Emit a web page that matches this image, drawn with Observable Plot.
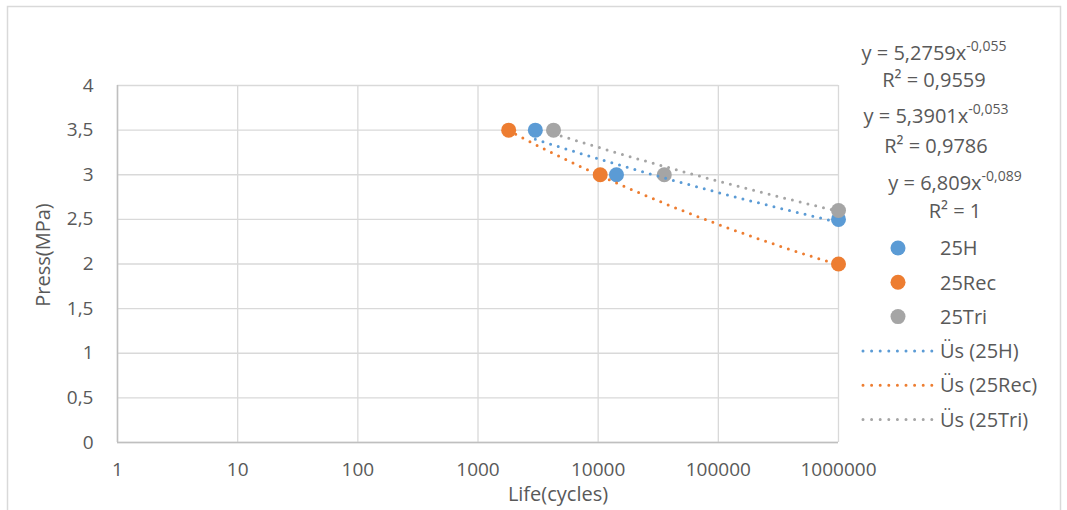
<!DOCTYPE html>
<html>
<head>
<meta charset="utf-8">
<script src="https://cdn.jsdelivr.net/npm/d3@7"></script>
<script src="https://cdn.jsdelivr.net/npm/@observablehq/plot@0.6"></script>
<style>
  html, body { margin: 0; padding: 0; background: #ffffff; }
  #chart { width: 1067px; height: 510px; overflow: hidden; }
</style>
</head>
<body>
<div id="chart"></div>
<script>
// ---- data ----
const seriesNames = ["25H", "25Rec", "25Tri"];
const seriesColors = ["#5B9BD5", "#ED7D31", "#A5A5A5"];
const lifeH = [3000, 14200, 1000000];
const pressH = [3.5, 3.0, 2.5];
const lifeRec = [1800, 10400, 1000000];
const pressRec = [3.5, 3.0, 2.0];
const lifeTri = [4250, 35500, 1000000];
const pressTri = [3.5, 3.0, 2.6];
// power trendline coefficients y = a * x^b (as printed on the chart)
const coefA = [5.2759, 6.809, 5.3901];
const coefB = [-0.055, -0.089, -0.053];
const rSquared = [0.9559, 1, 0.9786];
const xTicks = [1, 10, 100, 1000, 10000, 100000, 1000000];
const yTicks = [0, 0.5, 1, 1.5, 2, 2.5, 3, 3.5, 4];
const xTitle = "Life(cycles)";
const yTitle = "Press(MPa)";
const trendPrefix = "Üs";

// ---- derived tables ----
const lifes = [lifeH, lifeRec, lifeTri];
const presses = [pressH, pressRec, pressTri];
const points = [];
seriesNames.forEach((s, i) => lifes[i].forEach((l, j) => points.push({series: s, life: l, press: presses[i][j]})));
const trend = [];
seriesNames.forEach((s, i) => {
  const lo = Math.log10(d3.min(lifes[i])), hi = Math.log10(d3.max(lifes[i]));
  const n = 80;
  for (let k = 0; k <= n; k++) {
    const x = Math.pow(10, lo + (hi - lo) * k / n);
    trend.push({series: s, life: x, press: coefA[i] * Math.pow(x, coefB[i])});
  }
});
const comma = v => String(v).replace(".", ",");

const FONT = "'Open Sans', 'Noto Sans', sans-serif";
const TXT = "#595959";

const svg = Plot.plot({
  width: 1067, height: 510,
  marginLeft: 117, marginRight: 229, marginTop: 85, marginBottom: 68,
  style: {fontFamily: FONT, fontSize: "19px", color: TXT, background: "transparent", overflow: "visible"},
  x: {type: "log", domain: [1, 1e6]},
  y: {domain: [0, 4]},
  color: {domain: seriesNames, range: seriesColors},
  marks: [
    Plot.gridX(xTicks, {stroke: "#d9d9d9", strokeOpacity: 1, strokeWidth: 1.3}),
    Plot.gridY(yTicks, {stroke: "#d9d9d9", strokeOpacity: 1, strokeWidth: 1.3}),
    Plot.ruleX([1], {stroke: "#bfbfbf", strokeWidth: 1.5}),
    Plot.ruleY([0], {stroke: "#bfbfbf", strokeWidth: 1.5}),
    Plot.axisX(xTicks, {tickSize: 0, tickPadding: 20, tickFormat: d => String(d), label: null, fill: TXT, fontSize: 19}),
    Plot.axisY(yTicks, {tickSize: 0, tickPadding: 24, tickFormat: comma, label: null, fill: TXT, fontSize: 19}),
    Plot.dot(points, {x: "life", y: "press", fill: "series", r: 7.5, stroke: null}),
    Plot.line(trend, {x: "life", y: "press", z: "series", stroke: "series", strokeWidth: 3,
      strokeDasharray: "0 8", strokeLinecap: "round", curve: "linear"})
  ]
});
document.getElementById("chart").appendChild(svg);

const g = d3.select(svg).append("g").attr("text-anchor", "start");
// chart border
g.append("rect").attr("x", 7.5).attr("y", 6.5).attr("width", 1053).attr("height", 520)
  .attr("fill", "none").attr("stroke", "#d9d9d9").attr("stroke-width", 1.5);

// axis titles
g.append("text").attr("x", 558).attr("y", 501).attr("text-anchor", "middle")
  .attr("font-family", FONT).attr("font-size", 20).attr("fill", TXT).text(xTitle);
g.append("text").attr("transform", "translate(50,255) rotate(-90)").attr("text-anchor", "middle")
  .attr("font-family", FONT).attr("font-size", 20).attr("fill", TXT).text(yTitle);

// trendline equations (order top-to-bottom: 25H, 25Tri, 25Rec)
const eqOrder = [0, 2, 1];
const eqCx = [934, 936, 955];
const eqBase = [[60, 87], [123, 153], [190, 218]];
eqOrder.forEach((si, k) => {
  const t = g.append("text").attr("x", eqCx[k]).attr("y", eqBase[k][0]).attr("text-anchor", "middle")
    .attr("font-family", FONT).attr("font-size", 20).attr("fill", TXT);
  t.append("tspan").text("y = " + comma(coefA[si]) + "x");
  t.append("tspan").attr("font-size", 14).attr("dy", -9).text(comma(coefB[si]));
  g.append("text").attr("x", eqCx[k]).attr("y", eqBase[k][1]).attr("text-anchor", "middle")
    .attr("font-family", FONT).attr("font-size", 20).attr("fill", TXT)
    .text("R² = " + comma(rSquared[si]));
});

// legend
const ly0 = 248, lstep = 34.3;
seriesNames.forEach((s, i) => {
  const y = ly0 + i * lstep;
  g.append("circle").attr("cx", 898).attr("cy", y).attr("r", 7.5).attr("fill", seriesColors[i]);
  g.append("text").attr("x", 940).attr("y", y).attr("dy", "0.36em").attr("text-anchor", "start")
    .attr("font-family", FONT).attr("font-size", 20).attr("fill", TXT).text(s);
});
seriesNames.forEach((s, i) => {
  const y = ly0 + (i + 3) * lstep;
  g.append("line").attr("x1", 863).attr("x2", 932).attr("y1", y).attr("y2", y)
    .attr("stroke", seriesColors[i]).attr("stroke-width", 3).attr("stroke-dasharray", "0 8.6")
    .attr("stroke-linecap", "round");
  g.append("text").attr("x", 940).attr("y", y).attr("dy", "0.36em").attr("text-anchor", "start")
    .attr("font-family", FONT).attr("font-size", 20).attr("fill", TXT).text(trendPrefix + " (" + s + ")");
});
</script>
</body>
</html>
